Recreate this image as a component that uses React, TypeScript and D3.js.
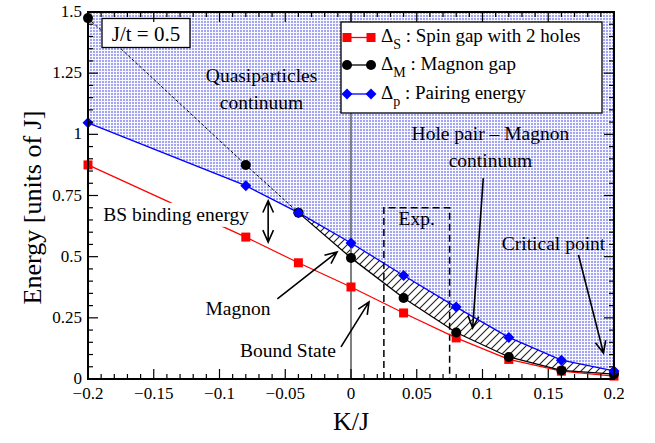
import React from "react";
import * as d3 from "d3";

const kValues = [-0.2, -0.08, -0.04, 0, 0.04, 0.08, 0.12, 0.16, 0.2];
const spinGap = [0.875, 0.58, 0.475, 0.376, 0.27, 0.168, 0.08, 0.032, 0.012];
const magnonGap = [1.475, 0.875, 0.68, 0.495, 0.331, 0.19, 0.09, 0.035, 0.02];
const pairingEnergy = [1.047, 0.79, 0.68, 0.556, 0.423, 0.294, 0.17, 0.077, 0.033];
const xTicks = [-0.2, -0.15, -0.1, -0.05, 0, 0.05, 0.1, 0.15, 0.2];
const xTickLabels = ["\u22120.2", "\u22120.15", "\u22120.1", "\u22120.05", "0", "0.05", "0.1", "0.15", "0.2"];
const yTicks = [0, 0.25, 0.5, 0.75, 1, 1.25, 1.5];
const yTickLabels = ["0", "0.25", "0.5", "0.75", "1", "1.25", "1.5"];

const W = 655, H = 443;
const M = { left: 88, right: 614, top: 12, bottom: 379 };
const FONT = "Liberation Serif";

type P = [number, number];

export default function App() {
  const x = d3.scaleLinear().domain([-0.2, 0.2]).range([M.left, M.right]);
  const y = d3.scaleLinear().domain([0, 1.5]).range([M.bottom, M.top]);

  const pts = (vals: number[]): P[] => kValues.map((k, i) => [k, vals[i]]);
  const line = d3.line<P>().x((d) => x(d[0])).y((d) => y(d[1]));

  const redPts = pts(spinGap);
  const blackPts = pts(magnonGap);
  const bluePts = pts(pairingEnergy);
  const splitIdx = kValues.indexOf(-0.04);
  const blackDashed = blackPts.slice(0, splitIdx + 1);
  const blackSolid = blackPts.slice(splitIdx);

  const fillArea = d3
    .area<P>()
    .x((d) => x(d[0]))
    .y0(() => y(1.5))
    .y1((d) => y(d[1]));

  const hatchData = kValues
    .map((k, i) => ({ k, lo: magnonGap[i], hi: pairingEnergy[i] }))
    .filter((d) => d.k >= -0.04);
  const hatchArea = d3
    .area<{ k: number; lo: number; hi: number }>()
    .x((d) => x(d.k))
    .y0((d) => y(d.lo))
    .y1((d) => y(d.hi));

  const xMinor = d3.range(-0.2, 0.2001, 0.01);
  const yMinor = d3.range(0, 1.5001, 0.05);

  const arrow = (x1: number, y1: number, x2: number, y2: number, both = false) => {
    const ax = x(x1), ay = y(y1), bx = x(x2), by = y(y2);
    const head = (px: number, py: number, fx: number, fy: number) => {
      const ang = Math.atan2(py - fy, px - fx);
      const L = 13, a = 0.42;
      const l1 = [px - L * Math.cos(ang - a), py - L * Math.sin(ang - a)];
      const l2 = [px - L * Math.cos(ang + a), py - L * Math.sin(ang + a)];
      return `M${l1[0]},${l1[1]}L${px},${py}L${l2[0]},${l2[1]}`;
    };
    let d = `M${ax},${ay}L${bx},${by}` + head(bx, by, ax, ay);
    if (both) d += head(ax, ay, bx, by);
    return <path d={d} fill="none" stroke="#000" strokeWidth={1.6} />;
  };

  const square = (cx: number, cy: number, key: any, s = 9) => (
    <rect key={key} x={cx - s / 2} y={cy - s / 2} width={s} height={s} fill="#ff0000" />
  );
  const circle = (cx: number, cy: number, key: any, r = 5) => (
    <circle key={key} cx={cx} cy={cy} r={r} fill="#000" />
  );
  const diamond = (cx: number, cy: number, key: any, r = 5.5) => (
    <path key={key} d={`M${cx},${cy - r}L${cx + r},${cy}L${cx},${cy + r}L${cx - r},${cy}Z`} fill="#0000ff" />
  );

  const legendRows = [
    { sub: "S", label: ": Spin gap with 2 holes", color: "#ff0000", marker: square, y: 37.5 },
    { sub: "M", label: ": Magnon gap", color: "#000000", marker: circle, y: 65 },
    { sub: "p", label: ": Pairing energy", color: "#0000ff", marker: diamond, y: 94 },
  ];

  const ts = { fontFamily: FONT };

  return (
    <svg width={W} height={H} style={{ position: "absolute", left: 0, top: 0, background: "#fff", fontFamily: FONT }}>
      <defs>
        <pattern id="dots" width={3} height={3} patternUnits="userSpaceOnUse">
          <rect width={3} height={3} fill="#f8f8ff" />
          <rect width={2} height={2} fill="#a4a4f4" />
        </pattern>
        <pattern id="hatch" width={8} height={8} patternUnits="userSpaceOnUse">
          <path d="M0,8L8,0M-2,2L2,-2M6,10L10,6" stroke="#222" strokeWidth={1.1} />
        </pattern>
        <clipPath id="plot">
          <rect x={M.left} y={M.top} width={M.right - M.left} height={M.bottom - M.top} />
        </clipPath>
      </defs>

      <g clipPath="url(#plot)">
        <path d={fillArea(bluePts) || ""} fill="url(#dots)" />
        <path d={hatchArea(hatchData) || ""} fill="url(#hatch)" />
      </g>

      {/* vertical line at K/J = 0 */}
      <line x1={x(0)} x2={x(0)} y1={y(0)} y2={y(1.5)} stroke="#808080" strokeWidth={2} />

      {/* Exp. region */}
      <path
        d={`M${x(0.025)},${y(0)}L${x(0.025)},${y(0.7)}L${x(0.075)},${y(0.7)}L${x(0.075)},${y(0)}`}
        fill="none" stroke="#000" strokeWidth={1.5} strokeDasharray="7,4"
      />
      <text style={ts} x={x(0.05)} y={y(0.629)} fontSize={19.5} textAnchor="middle">Exp.</text>

      {/* lines */}
      <path d={line(redPts) || ""} fill="none" stroke="#ff0000" strokeWidth={1.2} />
      <path d={line(bluePts) || ""} fill="none" stroke="#0000ff" strokeWidth={1.3} />
      <path d={line(blackDashed) || ""} fill="none" stroke="#000" strokeWidth={1} strokeDasharray="3,2" />
      <path d={line(blackSolid) || ""} fill="none" stroke="#000" strokeWidth={1.3} />

      {/* BS binding energy label with white box */}
      <rect x={x(-0.191)} y={y(0.72)} width={156} height={24} fill="#fff" />
      <text style={ts} x={x(-0.133)} y={y(0.647)} fontSize={19.5} textAnchor="middle">BS binding energy</text>

      {/* markers */}
      {redPts.map((d, i) => square(x(d[0]), y(d[1]), "r" + i))}
      {blackPts.map((d, i) => circle(x(d[0]), y(d[1]), "b" + i))}
      {bluePts.map((d, i) => diamond(x(d[0]), y(d[1]), "d" + i))}

      {/* J/t box */}
      <rect x={102} y={18.5} width={88} height={29} fill="#fff" stroke="#000" strokeWidth={1.3} />
      <text style={ts} x={146} y={41} fontSize={21} textAnchor="middle">J/t = 0.5</text>

      {/* legend */}
      <rect x={341} y={22} width={261} height={91} fill="#fff" stroke="#000" strokeWidth={1.3} />
      {legendRows.map((r, i) => (
        <g key={"lg" + i}>
          <line x1={347} x2={371} y1={r.y} y2={r.y} stroke={r.color} strokeWidth={1.3} />
          {r.marker(347, r.y, "lm1" + i)}
          {r.marker(371, r.y, "lm2" + i)}
          <text style={ts} x={381} y={r.y + 4.5} fontSize={19}>
            {"\u0394"}
            <tspan fontSize={14} dy={7}>{r.sub}</tspan>
            <tspan dy={-7}>{" " + r.label}</tspan>
          </text>
        </g>
      ))}

      {/* annotations */}
      <g fontSize={19.5} textAnchor="middle" style={ts}>
        <text x={x(-0.068)} y={y(1.214)}>Quasiparticles</text>
        <text x={x(-0.068)} y={y(1.103)}>continuum</text>
        <text x={x(0.106)} y={y(0.977)}>Hole pair – Magnon</text>
        <text x={x(0.106)} y={y(0.866)}>continuum</text>
        <text x={x(0.154)} y={y(0.527)}>Critical point</text>
        <text x={x(-0.086)} y={y(0.262)}>Magnon</text>
        <text x={x(-0.048)} y={y(0.09)}>Bound State</text>
      </g>
      {arrow(0.1006, 0.821, 0.0925, 0.208)}
      {arrow(0.173, 0.507, 0.192, 0.106)}
      {arrow(-0.056, 0.327, -0.0106, 0.519)}
      {arrow(-0.0076, 0.131, 0.0137, 0.315)}
      {arrow(-0.063, 0.729, -0.063, 0.56, true)}

      {/* axes frame & ticks */}
      <rect x={M.left} y={M.top} width={M.right - M.left} height={M.bottom - M.top} fill="none" stroke="#000" strokeWidth={2} />
      <g stroke="#000" strokeWidth={1.2}>
        {xMinor.map((v, i) => {
          const major = i % 5 === 0;
          const len = major ? 10 : 5;
          return (
            <g key={"xt" + i}>
              <line x1={x(v)} x2={x(v)} y1={M.bottom} y2={M.bottom - len} />
              <line x1={x(v)} x2={x(v)} y1={M.top} y2={M.top + len} />
            </g>
          );
        })}
        {yMinor.map((v, i) => {
          const major = i % 5 === 0;
          const len = major ? 10 : 5;
          return (
            <g key={"yt" + i}>
              <line x1={M.left} x2={M.left + len} y1={y(v)} y2={y(v)} />
              <line x1={M.right} x2={M.right - len} y1={y(v)} y2={y(v)} />
            </g>
          );
        })}
      </g>
      <g fontSize={17} textAnchor="middle" style={ts}>
        {xTicks.map((v, i) => (
          <text key={"xl" + i} x={x(v)} y={399}>{xTickLabels[i]}</text>
        ))}
      </g>
      <g fontSize={17} textAnchor="end" style={ts}>
        {yTicks.map((v, i) => (
          <text key={"yl" + i} x={82} y={y(v) + 5}>{yTickLabels[i]}</text>
        ))}
      </g>
      <text style={ts} x={351} y={430} fontSize={26} textAnchor="middle">K/J</text>
      <text style={ts} transform={`translate(41,${(M.top + M.bottom) / 2 + 12}) rotate(-90)`} fontSize={26} textAnchor="middle">
        Energy [units of J]
      </text>
    </svg>
  );
}
